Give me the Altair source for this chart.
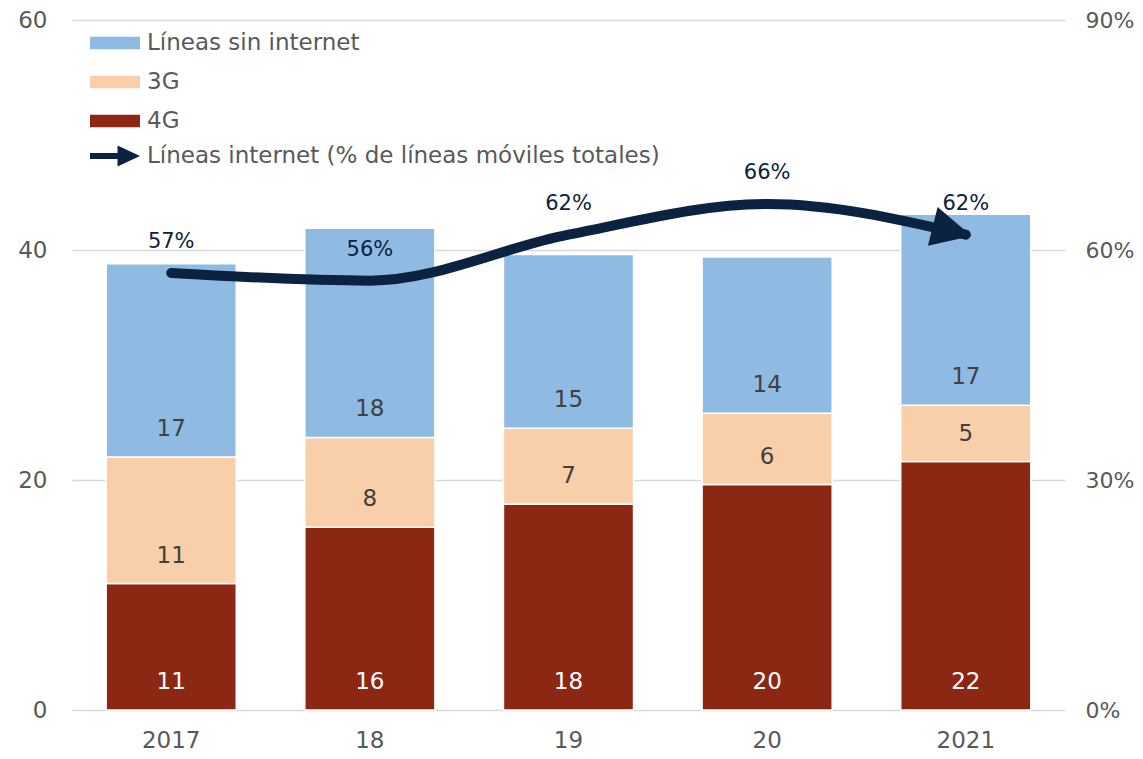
import altair as alt
import pandas as pd

years = ["2017", "18", "19", "20", "2021"]
g4 = [11.0, 15.9, 17.9, 19.6, 21.6]
g3 = [11.0, 7.8, 6.6, 6.2, 4.9]
sin_internet = [16.8, 18.2, 15.1, 13.6, 16.6]
pct_internet = [57, 56, 62, 66, 62]

series = ["Líneas sin internet", "3G", "4G"]
colors = ["#8fbbe3", "#f9cfa9", "#8c2714"]
line_name = "Líneas internet (% de líneas móviles totales)"
navy = "#0b2341"
gray = "#595959"
FONT = "DejaVu Sans"

rows = []
for i, yr in enumerate(years):
    base = 0.0
    for name, vals, order in [("4G", g4, 0), ("3G", g3, 1), ("Líneas sin internet", sin_internet, 2)]:
        v = vals[i]
        rows.append(dict(year=yr, serie=name, value=v, base=base, order=order, label=f"{v:.0f}"))
        base += v
bars_df = pd.DataFrame(rows)

line_df = pd.DataFrame({"year": years, "pct": pct_internet})
line_df["serie"] = line_name
line_df["label"] = [f"{p}%" for p in pct_internet]

x = alt.X("year:N", sort=years,
          scale=alt.Scale(paddingInner=0.345, paddingOuter=0.172),
          axis=alt.Axis(title=None, labelAngle=0, domain=False, ticks=False,
                        labelPadding=19, labelFontSize=23, labelColor=gray))

yleft_scale = alt.Scale(domain=[0, 60])
yright_scale = alt.Scale(domain=[0, 90])

left_axis = alt.Axis(values=[0, 20, 40, 60], title=None, grid=True,
                     gridColor="#d9d9d9", gridWidth=1.5, domain=False,
                     ticks=False, labelPadding=25, labelFontSize=23,
                     labelColor=gray)
right_axis = alt.Axis(orient="right", values=[0, 30, 60, 90],
                      labelExpr="datum.value + '%'", title=None, grid=False,
                      domain=False, ticks=False, labelPadding=20,
                      labelFontSize=22, labelColor=gray)

bars = alt.Chart(bars_df).mark_bar(stroke="white", strokeWidth=1.5).encode(
    x=x,
    y=alt.Y("value:Q", stack="zero", scale=yleft_scale, axis=left_axis),
    color=alt.Color("serie:N", scale=alt.Scale(domain=series, range=colors),
                    legend=alt.Legend(orient="none", legendX=18, legendY=-2,
                                      title=None, symbolType="M-1,-0.25H1V0.25H-1Z",
                                      symbolSize=2500, symbolStrokeWidth=0,
                                      labelFontSize=23, labelColor=gray, labelFont=FONT,
                                      labelLimit=800, rowPadding=2, labelOffset=7,
                                      padding=0)),
    order=alt.Order("order:Q"),
)

text_white = alt.Chart(bars_df).transform_filter(alt.datum.serie == "4G").mark_text(
    dy=-28, fontSize=23, baseline="middle", color="white").encode(
    x=x, y=alt.Y("base:Q", scale=yleft_scale, axis=left_axis), text="label:N")

text_dark = alt.Chart(bars_df).transform_filter(alt.datum.serie != "4G").mark_text(
    dy=-28, fontSize=23, baseline="middle", color="#404040").encode(
    x=x, y=alt.Y("base:Q", scale=yleft_scale, axis=left_axis), text="label:N")

left = alt.layer(bars, text_white, text_dark)

line = alt.Chart(line_df).mark_line(interpolate="monotone", strokeWidth=10,
                                     strokeCap="round", color=navy).encode(
    x=x,
    y=alt.Y("pct:Q", scale=yright_scale, axis=right_axis),
)

arrow_head = "M-1.7,-1L0.3,0L-1.7,1Z"
arrow_legend = "M-1,-0.12H0.1V-0.42L1,0L0.1,0.42V0.12H-1Z"

arrow = alt.Chart(line_df).transform_filter(alt.datum.year == "2021").mark_point(
    shape=arrow_head, size=1600, filled=True, opacity=1, angle=14, strokeWidth=0).encode(
    x=x,
    y=alt.Y("pct:Q", scale=yright_scale, axis=right_axis),
    fill=alt.Fill("serie:N", scale=alt.Scale(domain=[line_name], range=[navy]),
                  legend=alt.Legend(orient="none", legendX=18, legendY=111,
                                    title=None, symbolType=arrow_legend,
                                    symbolSize=2500, symbolStrokeWidth=0,
                                    labelFontSize=23, labelColor=gray, labelFont=FONT,
                                    labelLimit=800, labelOffset=7, padding=0)),
)

line_text = alt.Chart(line_df).mark_text(dy=-31, fontSize=21, color=navy,
                                          baseline="middle").encode(
    x=x, y=alt.Y("pct:Q", scale=yright_scale, axis=right_axis), text="label:N")

right = alt.layer(line, arrow, line_text)

chart = alt.layer(left, right).resolve_scale(y="independent").properties(
    width=993, height=690,
    autosize=alt.AutoSizeParams(type="none"),
    padding={"left": 64, "top": 12, "right": 70, "bottom": 41},
).configure(font=FONT).configure_view(strokeWidth=0).configure_text(font=FONT)

chart.save("out.html", embed_options={"renderer": "svg", "actions": False})
